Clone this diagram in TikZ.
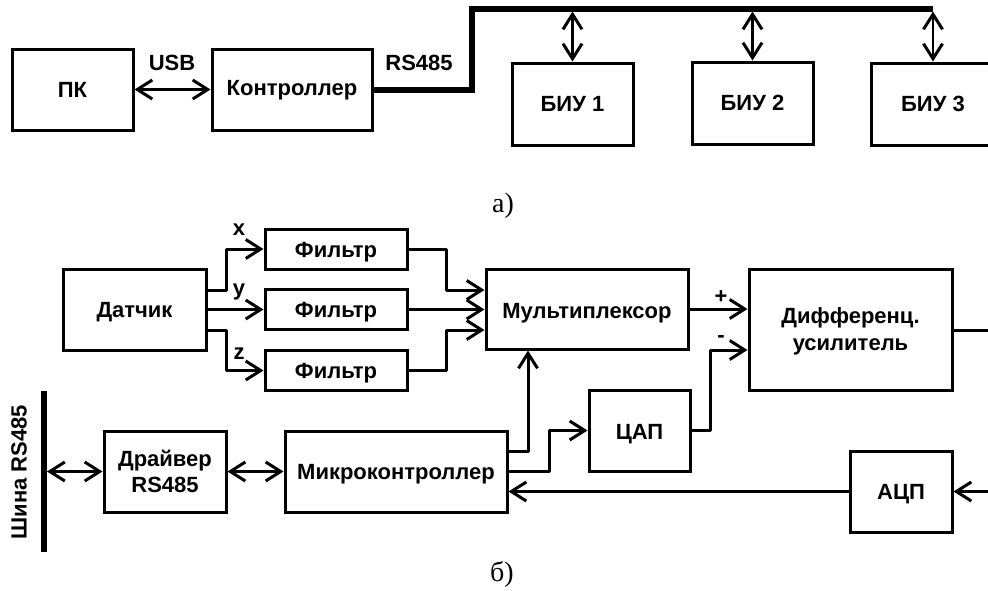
\documentclass[tikz,border=0pt]{standalone}
\usepackage{fontspec}
\setmainfont{Liberation Serif}
\newfontfamily\lsans{Liberation Sans}
\usetikzlibrary{arrows.meta,calc}
\newcommand{\tdown}[2]{\raisebox{-#1pt}[\height][\depth]{#2}}
\tikzset{
  x=1pt,y=-1pt,
  barb/.tip={Straight Barb[length=15pt,width=19pt,line width=3pt]},
  blk/.style={draw=black,line width=3pt,fill=white,align=center,inner sep=0pt,
    font=\lsans\bfseries\fontsize{22}{26.5}\selectfont,text=black},
  lbl/.style={inner sep=0pt,font=\lsans\bfseries\fontsize{22}{26}\selectfont},
  captxt/.style={inner sep=0pt,font=\fontsize{28}{32}\selectfont},
  conn/.style={line width=3pt,-barb,line join=round},
  plainline/.style={line width=3pt,line join=round},
  both/.style={line width=3pt,barb-barb},
  thinboth/.style={line width=2.2pt,barb-barb},
  busline/.style={line width=6pt,line join=miter},
}
\begin{document}
\begin{tikzpicture}
\clip (0,0) rectangle (988,590);
% --- a)
\node[blk,minimum width=121pt,minimum height=81pt] (pk) at (72.5,89.5) {ПК};
\node[blk,minimum width=160pt,minimum height=81pt] (ctl) at (292,89.5) {\tdown{1}{Контроллер}};
\node[blk,minimum width=121pt,minimum height=82pt] (biu1) at (572.5,104) {БИУ 1};
\node[blk,minimum width=121pt,minimum height=82pt] (biu2) at (752.5,103) {БИУ 2};
\node[blk,minimum width=124pt,minimum height=82pt] (biu3) at (933,104) {БИУ 3};
\coordinate (busa) at (472,8.5);
\coordinate (busb) at (biu3.north |- busa);
\draw[busline] (ctl.east) -| (busa) -- (busb);
\draw[both] (pk) -- (ctl);
\draw[thinboth] (biu1.north |- busa) ++(0,3) coordinate (t1) (t1) -- (biu1.north);
\draw[thinboth] (biu2.north |- busa) ++(0,3) coordinate (t2) (t2) -- (biu2.north);
\draw[thinboth] (busb) ++(0,3) coordinate (t3) (t3) -- (biu3.north);
\node[lbl] (usb) at (172,63) {USB};
\node[lbl] (rs) at (419,63) {RS485};
\node[captxt] (capa) at (503,206) {а)};
% --- b)
\node[blk,minimum width=143pt,minimum height=81pt] (dat) at (134.5,309.5) {\tdown{3}{Датчик}};
\node[blk,minimum width=142pt,minimum height=40pt] (f1) at (336,249) {\tdown{3}{Фильтр}};
\node[blk,minimum width=142pt,minimum height=40pt] (f2) at (336,309.5) {\tdown{3}{Фильтр}};
\node[blk,minimum width=142pt,minimum height=40pt] (f3) at (336,370.5) {\tdown{3}{Фильтр}};
\node[blk,minimum width=202pt,minimum height=80pt] (mux) at (587,309) {\tdown{4}{Мультиплексор}};
\node[blk,minimum width=203pt,minimum height=121pt] (dif) at (850.5,329.5) {\tdown{2}{Дифференц.}\\\tdown{2}{усилитель}};
\node[blk,minimum width=101pt,minimum height=81pt] (dac) at (639.5,430.5) {\tdown{4}{ЦАП}};
\node[blk,minimum width=222pt,minimum height=81pt] (mcu) at (396,471.5) {\tdown{3}{Микроконтроллер}};
\node[blk,minimum width=102pt,minimum height=81pt] (adc) at (901,491.5) {\tdown{3}{АЦП}};
\node[blk,minimum width=122pt,minimum height=81pt] (drv) at (165,471.5) {Драйвер\\RS485};
\coordinate (dx1) at (226,249);
\coordinate (dx2) at (226,290);
\coordinate (dz1) at (226,330);
\coordinate (dz2) at (226,370.5);
\draw[conn] (dat.east |- dx2) -- (dx2) -- (dx1) -- (f1.west);
\draw[conn] (dat.east |- f2.west) -- (f2.west);
\draw[conn] (dat.east |- dz1) -- (dz1) -- (dz2) -- (f3.west);
\coordinate (fo1) at (446,249);
\coordinate (fi1) at (446,290);
\coordinate (fo3) at (446,370.5);
\coordinate (fi3) at (446,330);
\draw[conn] (f1.east) -- (fo1) -- (fi1) -- (mux.west |- fi1);
\draw[conn] (f2.east) -- (mux.west |- f2.east);
\draw[conn] (f3.east) -- (fo3) -- (fi3) -- (mux.west |- fi3);
\coordinate (plusy) at (0,309);
\draw[conn] (mux.east |- plusy) -- (dif.west |- plusy);
\coordinate (my) at (0,350);
\coordinate (dk) at (710,430.5);
\draw[conn] (dac.east) -- (dk) -- (dk |- my) -- (dif.west |- my);
\coordinate (mo1) at (528,451);
\coordinate (mo2) at (549,471);
\draw[conn] (mcu.east |- mo1) -- (mo1) -- (mo1 |- mux.south);
\draw[conn] (mcu.east |- mo2) -- (mo2) -- (mo2 |- dac.west) -- (dac.west);
\draw[conn] (adc.west) -- (mcu.east |- adc.west);
\coordinate (edgeA) at (992,491.5);
\coordinate (edgeB) at (992,330);
\draw[conn] (edgeA) -- (adc.east);
\draw[plainline] (dif.east |- edgeB) -- (edgeB);
\coordinate (sh1) at (44,391);
\coordinate (sh2) at (44,552);
\draw[line width=6pt] (sh1) -- (sh2);
\draw[both] (sh1 |- drv.west) ++(3,0) coordinate (sd) (sd) -- (drv.west);
\draw[both] (drv.east) -- (mcu.west);
\node[lbl,rotate=90] (shina) at (19,472) {Шина RS485};
\node[lbl] (lx) at (239,230) {x};
\node[lbl] (ly) at (239,292) {y};
\node[lbl] (lz) at (239,354) {z};
\node[lbl] (lp) at (721,297) {+};
\node[lbl] (lm) at (721,339) {-};
\node[captxt] (capb) at (502,574) {б)};
\end{tikzpicture}
\end{document}
